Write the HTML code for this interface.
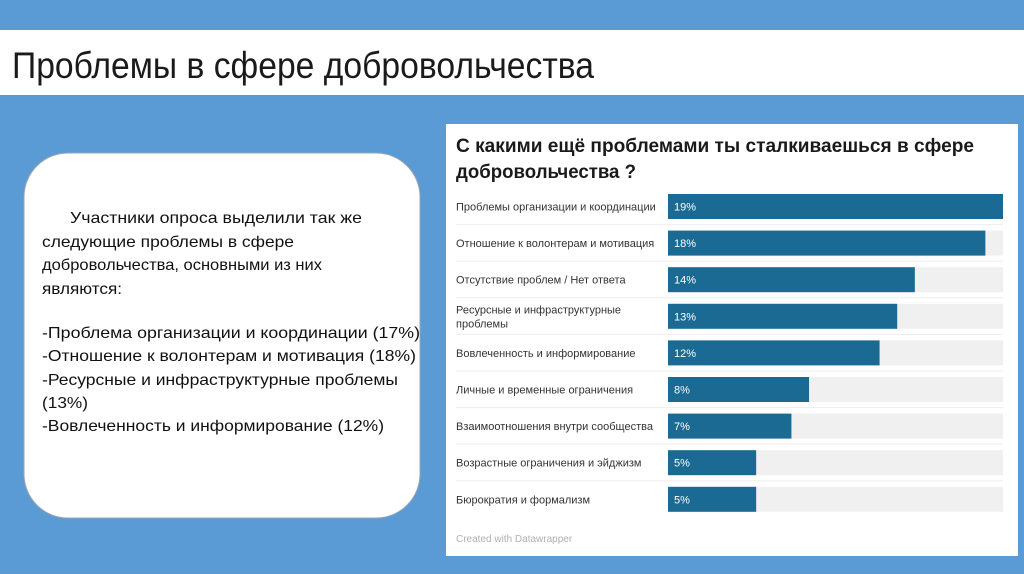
<!DOCTYPE html>
<html><head><meta charset="utf-8"><style>
html,body{margin:0;padding:0;width:1024px;height:574px;overflow:hidden;background:#5b9bd5;}
svg{display:block;font-family:"Liberation Sans","DejaVu Sans",sans-serif;}
</style></head><body>
<svg id="page" width="1024" height="574" viewBox="0 0 1024 574">
<rect x="0" y="0" width="1024" height="574" fill="#5b9bd5"/>
<rect x="0" y="30" width="1024" height="65" fill="#ffffff"/>
<text x="12" y="78" font-size="37" fill="#1a1a1a" textLength="582" lengthAdjust="spacingAndGlyphs">Проблемы в сфере добровольчества</text>

<g>
<rect x="24" y="153" width="396" height="365" rx="44" ry="44" fill="#ffffff" stroke="#9aa5b0" stroke-width="1"/>
<g font-size="16" fill="#111">
<text x="70" y="223" textLength="292" lengthAdjust="spacingAndGlyphs">Участники опроса выделили так же</text>
<text x="42" y="247" textLength="252" lengthAdjust="spacingAndGlyphs">следующие проблемы в сфере</text>
<text x="42" y="270" textLength="280" lengthAdjust="spacingAndGlyphs">добровольчества, основными из них</text>
<text x="42" y="294" textLength="80" lengthAdjust="spacingAndGlyphs">являются:</text>
<text x="42" y="338" textLength="378" lengthAdjust="spacingAndGlyphs">-Проблема организации и координации (17%)</text>
<text x="42" y="361" textLength="374" lengthAdjust="spacingAndGlyphs">-Отношение к волонтерам и мотивация (18%)</text>
<text x="42" y="385" textLength="356" lengthAdjust="spacingAndGlyphs">-Ресурсные и инфраструктурные проблемы</text>
<text x="42" y="408" textLength="46" lengthAdjust="spacingAndGlyphs">(13%)</text>
<text x="42" y="431" textLength="342" lengthAdjust="spacingAndGlyphs">-Вовлеченность и информирование (12%)</text>
</g>
</g>

<g>
<rect x="446" y="124" width="572" height="432" fill="#ffffff"/>
<text x="456" y="152" font-size="19" font-weight="bold" fill="#1a1a1a" textLength="518" lengthAdjust="spacingAndGlyphs">С какими ещё проблемами ты сталкиваешься в сфере</text>
<text x="456" y="178" font-size="19" font-weight="bold" fill="#1a1a1a" textLength="180" lengthAdjust="spacingAndGlyphs">добровольчества ?</text>
<g id="bars"></g>
<text x="456" y="542" font-size="10" fill="#b0b0b0">Created with Datawrapper</text>
</g>
</svg>
<script>
const categories = [
  ["Проблемы организации и координации"],
  ["Отношение к волонтерам и мотивация"],
  ["Отсутствие проблем / Нет ответа"],
  ["Ресурсные и инфраструктурные", "проблемы"],
  ["Вовлеченность и информирование"],
  ["Личные и временные ограничения"],
  ["Взаимоотношения внутри сообщества"],
  ["Возрастные ограничения и эйджизм"],
  ["Бюрократия и формализм"]
];
const values = [19, 18, 14, 13, 12, 8, 7, 5, 5];
const valueLabels = ["19%", "18%", "14%", "13%", "12%", "8%", "7%", "5%", "5%"];

const NS = "http://www.w3.org/2000/svg";
const g = document.getElementById("bars");
const x0 = 668, plotW = 335, maxV = Math.max(...values);
const xScale = v => plotW * v / maxV;
const y0 = 194, pitch = 36.6, barH = 25;
const yScale = i => y0 + i * pitch;
function mk(tag, attrs){ const e = document.createElementNS(NS, tag); for (const k in attrs) e.setAttribute(k, attrs[k]); return e; }
categories.forEach((lines, i) => {
  const y = yScale(i);
  if (i > 0) {
    const sep = mk("line", {x1: 456, x2: 1003, y1: y - 6, y2: y - 6, stroke: "#eeeeee", "stroke-width": 1});
    
    
    g.appendChild(sep);
  }
  const bg = mk("rect", {x: x0, y: y, width: plotW, height: barH, fill: "#f0f0f0"});
  
  
  g.appendChild(bg);
  const bar = mk("rect", {x: x0, y: y, width: xScale(values[i]), height: barH, fill: "#1b6a93"});
  
  
  g.appendChild(bar);
  const vt = mk("text", {x: x0 + 6, y: y + barH / 2 + 4, "font-size": 11, fill: "#ffffff"});
  vt.textContent = valueLabels[i];
  
  
  g.appendChild(vt);
  lines.forEach((ln, j) => {
    const off = lines.length === 1 ? 4 : (j === 0 ? -3 : 11);
    const t = mk("text", {x: 456, y: y + barH / 2 + off, "font-size": 11, fill: "#333333"});
    t.textContent = ln;
    
    
    g.appendChild(t);
  });
});
</script>
</body></html>
